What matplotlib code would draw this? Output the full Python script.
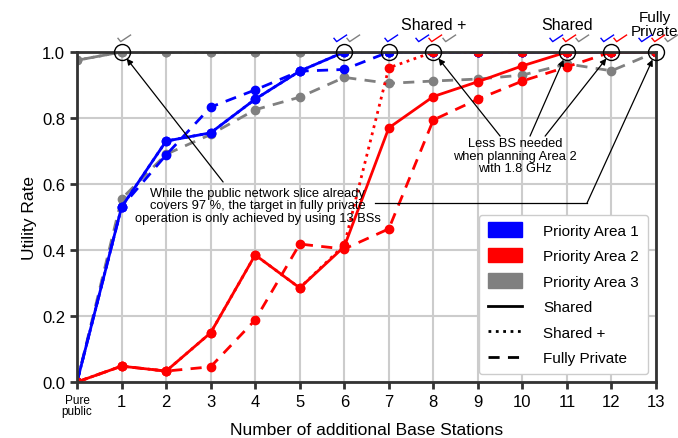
import matplotlib
matplotlib.use("Agg")
import matplotlib.pyplot as plt
from matplotlib.patches import Patch, Rectangle
from matplotlib.lines import Line2D
from matplotlib.legend_handler import HandlerPatch
from matplotlib.path import Path
from matplotlib.transforms import ScaledTranslation
import numpy as np

plt.rcParams['font.family'] = ['Liberation Sans', 'DejaVu Sans']

# x positions: 0 = pure public, then number of additional base stations
bs = np.arange(0, 14)
xlabels = ['Pure\npublic'] + [str(i) for i in range(1, 14)]

# Priority Area 1 (blue)
a1_shared = [0.0, 0.53, 0.73, 0.755, 0.857, 0.942, 1.0, 1.0, 1.0, 1.0, 1.0, 1.0, 1.0, 1.0]
a1_sharedp = [0.0, 0.53, 0.73, 0.755, 0.857, 0.942, 1.0, 1.0, 1.0, 1.0, 1.0, 1.0, 1.0, 1.0]
a1_private = [0.0, 0.53, 0.688, 0.833, 0.885, 0.942, 0.947, 1.0, 1.0, 1.0, 1.0, 1.0, 1.0, 1.0]

# Priority Area 2 (red)
a2_shared = [0.0, 0.048, 0.033, 0.149, 0.385, 0.285, 0.41, 0.77, 0.865, 0.91, 0.958, 1.0, 1.0, 1.0]
a2_sharedp = [0.0, 0.048, 0.033, 0.149, 0.385, 0.285, 0.415, 0.952, 1.0, 1.0, 1.0, 1.0, 1.0, 1.0]
a2_private = [0.0, 0.048, 0.033, 0.046, 0.188, 0.418, 0.403, 0.464, 0.794, 0.857, 0.912, 0.955, 1.0, 1.0]

# Priority Area 3 (gray)
a3_shared = [0.975, 1.0, 1.0, 1.0, 1.0, 1.0, 1.0, 1.0, 1.0, 1.0, 1.0, 1.0, 1.0, 1.0]
a3_sharedp = [0.975, 1.0, 1.0, 1.0, 1.0, 1.0, 1.0, 1.0, 1.0, 1.0, 1.0, 1.0, 1.0, 1.0]
a3_private = [0.0, 0.555, 0.69, 0.75, 0.825, 0.863, 0.923, 0.905, 0.912, 0.918, 0.93, 0.964, 0.943, 1.0]

# where a target is reached, and which areas get a tick mark there
goal_x = [1, 6, 7, 8, 11, 12, 13]
checks = {1: ['gray'], 6: ['blue', 'gray'], 7: ['blue'], 8: ['blue', 'red', 'gray'],
          11: ['blue', 'red', 'gray'], 12: ['blue', 'red'], 13: ['blue', 'red', 'gray']}
top_labels = {8: 'Shared +', 11: 'Shared', 13: 'Fully\nPrivate'}

fig = plt.figure(figsize=(6.78, 4.39), dpi=100)
ax = fig.add_axes([0.1136, 0.1276, 0.854, 0.7517])

lw = 2.0
ms = 6
series = [
    ('gray', a3_shared, a3_sharedp, a3_private),
    ('blue', a1_shared, a1_sharedp, a1_private),
    ('red', a2_shared, a2_sharedp, a2_private),
]
for col, s, sp, p in series:
    ax.plot(bs, s, '-o', color=col, lw=lw, ms=ms)
    ax.plot(bs, sp, ':o', color=col, lw=lw, ms=ms)
    ax.plot(bs, p, '--o', color=col, lw=lw, ms=ms, dashes=(4, 3))

ax.plot(goal_x, np.ones(len(goal_x)), 'o', mfc='none', mec='k', mew=1.0, ms=11.5,
        clip_on=False, zorder=6)

# thin check mark as a marker path
check = Path([(-1.0, 0.1), (-0.55, -0.45), (0.95, 0.55)],
             [Path.MOVETO, Path.LINETO, Path.LINETO])
spacing = 9.5
for x, cols in checks.items():
    n = len(cols)
    for i, c in enumerate(cols):
        off = (i - (n - 1) / 2) * spacing + 1.5
        tr = ax.transData + ScaledTranslation(off / 72, 10 / 72, fig.dpi_scale_trans)
        ax.plot([x], [1.0], marker=check, ms=10, mfc='none', mec=c, mew=1.0,
                ls='none', transform=tr, clip_on=False, zorder=6)
for x, t in top_labels.items():
    ax.annotate(t, xy=(x, 1.0), xytext=(-1 if x == 13 else 0, 20), textcoords='offset points',
                ha='center', va='center', fontsize=11 if x == 13 else 11.5,
                annotation_clip=False, linespacing=1.0)

aprops = dict(arrowstyle='-|>', color='k', lw=0.9, mutation_scale=9, shrinkA=0, shrinkB=6)
ax.text(4.06, 0.535, 'While the public network slice already\ncovers 97 %, the target in fully private\n'
        'operation is only achieved by using 13 BSs', ha='center', va='center', fontsize=9.3,
        linespacing=1.05, zorder=7)
ax.annotate('', xy=(1, 1.0), xytext=(3.28, 0.606), arrowprops=aprops, annotation_clip=False)
ax.plot([6.7, 11.45], [0.542, 0.542], color='k', lw=0.9)
ax.annotate('', xy=(13, 1.0), xytext=(11.45, 0.542), arrowprops=aprops, annotation_clip=False)

ax.text(9.83, 0.685, 'Less BS needed\nwhen planning Area 2\nwith 1.8 GHz', ha='center', va='center',
        fontsize=9.3, linespacing=1.05, zorder=7)
ax.annotate('', xy=(8, 1.0), xytext=(9.5, 0.745), arrowprops=aprops, annotation_clip=False)
ax.annotate('', xy=(11, 1.0), xytext=(10.17, 0.745), arrowprops=aprops, annotation_clip=False)
ax.annotate('', xy=(12, 1.0), xytext=(10.51, 0.745), arrowprops=aprops, annotation_clip=False)

ax.set_xlim(0, 13)
ax.set_ylim(0, 1.0)
ax.set_xticks(bs)
ax.set_yticks(np.arange(0, 1.01, 0.2))
ax.tick_params(axis='both', labelsize=12, direction='out', length=5, width=2, color='#333333')
ax.set_xticklabels(xlabels)
ax.get_xticklabels()[0].set_fontsize(8.5)
ax.get_xticklabels()[0].set_linespacing(0.95)
ax.grid(True, color='#cccccc', lw=1.5)
ax.set_axisbelow(True)
for sp in ax.spines.values():
    sp.set_linewidth(2)
    sp.set_color('#333333')
ax.set_xlabel('Number of additional Base Stations', fontsize=12.5, labelpad=3)
ax.set_ylabel('Utility Rate', fontsize=12.5)


def tall_patch(legend, orig_handle, xdescent, ydescent, width, height, fontsize):
    return Rectangle((-xdescent, -ydescent - height * 0.2), width, height * 1.4)


handles = [Patch(color='blue'), Patch(color='red'), Patch(color='gray'),
           Line2D([], [], color='k', lw=2, ls='-'),
           Line2D([], [], color='k', lw=2, ls=':'),
           Line2D([], [], color='k', lw=2, ls='--', dashes=(4, 3))]
names = ['Priority Area 1', 'Priority Area 2', 'Priority Area 3', 'Shared', 'Shared +', 'Fully Private']
leg = ax.legend(handles, names, loc='lower right', fontsize=11, handlelength=2.2,
                labelspacing=0.75, borderpad=0.6, handletextpad=1.4, framealpha=1,
                edgecolor='#cccccc', fancybox=True,
                handler_map={Patch: HandlerPatch(patch_func=tall_patch)})
leg.set_zorder(8)

fig.savefig('out.png', dpi=100)
